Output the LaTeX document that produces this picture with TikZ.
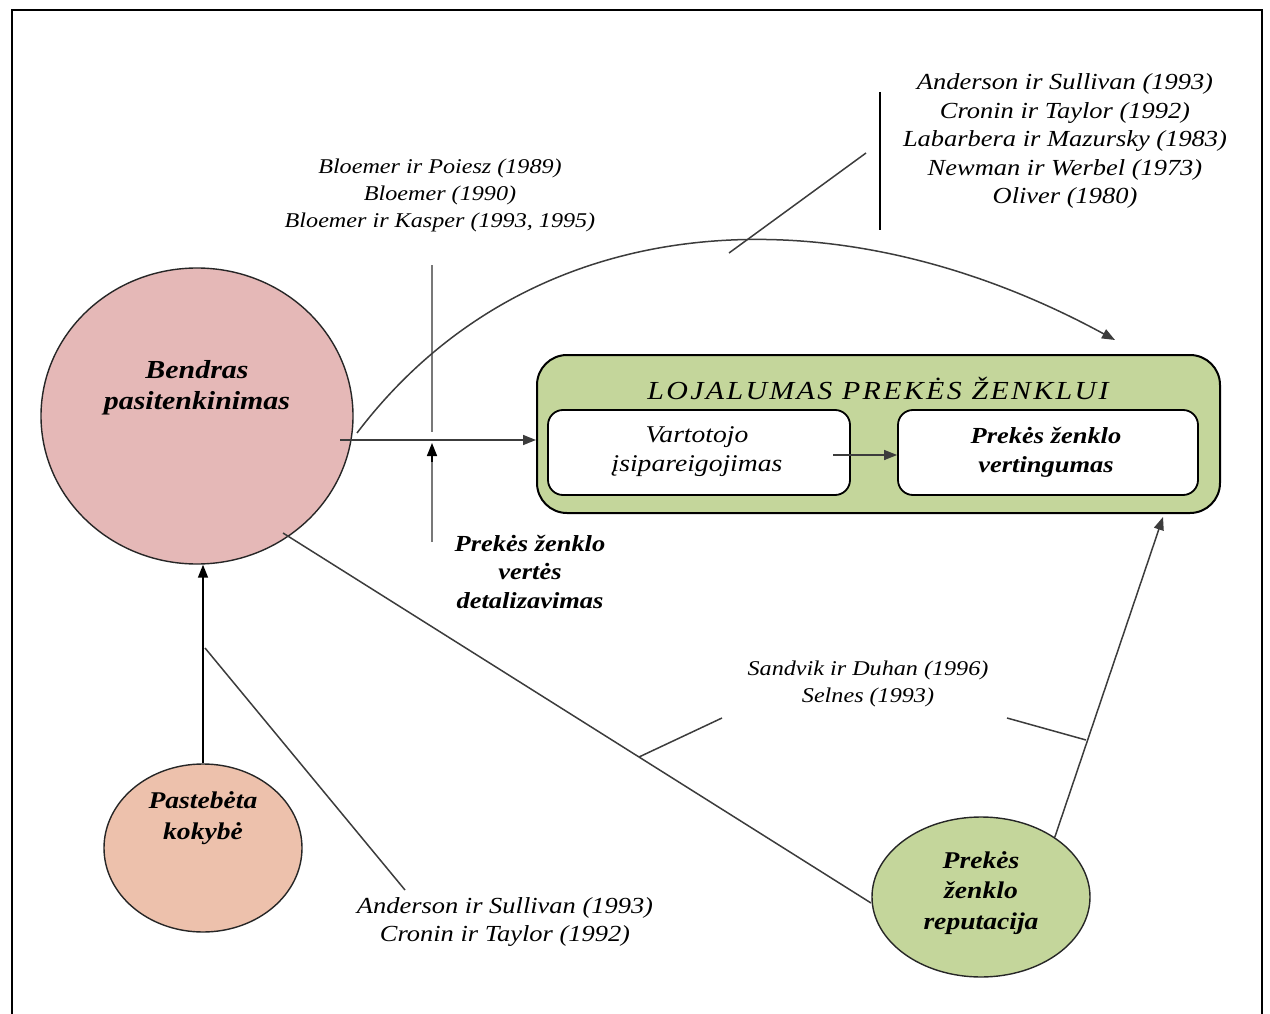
\documentclass[tikz,border=0pt]{standalone}
\usepackage{fontspec}
\setmainfont{Liberation Serif}[FakeStretch=1.15]
\usetikzlibrary{shapes.geometric,arrows.meta}

\definecolor{satpink}{RGB}{229,184,183}
\definecolor{qualsalmon}{RGB}{237,193,172}
\definecolor{loyalgreen}{RGB}{196,214,155}
\definecolor{linegray}{RGB}{60,60,60}
\definecolor{bargray}{RGB}{120,120,120}

\tikzset{
  cite/.style={font=\fontsize{23}{28.5}\selectfont\itshape, align=center, inner sep=0pt},
  smallcite/.style={cite, font=\fontsize{21}{27}\selectfont\itshape},
  lbl/.style={font=\fontsize{24}{30.5}\selectfont\bfseries\itshape, align=center, inner sep=0pt},
  blob/.style={ellipse, draw=black!85, line width=1.4pt, inner sep=0pt},
  panel/.style={draw=black, line width=1.8pt, rounded corners=15pt, fill=white, minimum height=85pt, inner sep=0pt},
  conn/.style={draw=linegray, line width=1.5pt},
  tipped/.style={-{Triangle[length=13pt,width=10pt]}},
  bar/.style={draw=bargray, line width=2.6pt},
}

\begin{document}
\begin{tikzpicture}[x=1pt,y=-1pt]
\useasboundingbox (0,0) rectangle (1270,1014);

% outer frame
\draw[line width=2pt] (12,1016) -- (12,10) -- (1262,10) -- (1262,1016);

% main constructs
\node[blob, fill=satpink, minimum width=312pt, minimum height=296pt] (bp) at (197,416) {};
\node[lbl, font=\fontsize{26}{31}\selectfont\bfseries\itshape] (bptxt) at (197,388) {Bendras\\pasitenkinimas};

\node[blob, fill=qualsalmon, minimum width=198pt, minimum height=168pt] (pq) at (203,848) {};
\node[lbl] (pqtxt) at (203,818) {Pastebėta\\kokybė};

\node[blob, fill=loyalgreen, minimum width=218pt, minimum height=160pt] (rep) at (981,897) {};
\node[lbl] (reptxt) at (981,893) {Prekės\\ženklo\\reputacija};

% brand loyalty block
\node[draw=black, line width=2pt, rounded corners=30pt, fill=loyalgreen,
      minimum width=683pt, minimum height=158pt, inner sep=0pt] (loyal) at (878.5,434) {};
\node[font=\fontsize{26}{30}\selectfont\itshape\addfontfeatures{LetterSpace=9}, inner sep=0pt]
      (loyaltitle) at (878,388) {LOJALUMAS PREKĖS ŽENKLUI};
\node[panel, minimum width=302pt] (commit) at (699,452.5) {};
\node[font=\fontsize{24}{29}\selectfont\itshape, align=center, inner sep=0pt] (committxt) at (697,452) {Vartotojo\\įsipareigojimas};
\node[panel, minimum width=300pt] (equity) at (1048,452.5) {};
\node[lbl, font=\fontsize{23}{29}\selectfont\bfseries\itshape] (equitytxt) at (1046,452) {Prekės ženklo\\vertingumas};
\coordinate (ceq) at (833,455);
\draw[conn, tipped] (ceq) -- (ceq -| equity.west);

% satisfaction -> loyalty, with the moderating bar
\coordinate (hstart) at (340,440);
\draw[conn, tipped] (hstart) -- (hstart -| loyal.west);
\coordinate (modtop) at (432,265);
\coordinate (modbot) at (432,432);
\draw[bar] (modtop) -- (modbot);
\coordinate (valbot) at (432,542);
\coordinate (valtip) at (432,443);
\draw[bar] (valbot) -- (432,458);
\draw[conn, draw=black, tipped] (432,462) -- (valtip);
\node[cite, font=\fontsize{23}{28.5}\selectfont\bfseries\itshape] (valtxt) at (530,572) {Prekės ženklo\\vertės\\detalizavimas};

% direct curved path
\coordinate (cstart) at (357,433);
\coordinate (cend) at (1115,340);
\draw[conn, tipped] (cstart) .. controls (530,205) and (834,187) .. (cend);
\coordinate (t1a) at (729,253);
\coordinate (t1b) at (866,153);
\draw[conn] (t1a) -- (t1b);
\coordinate (s1top) at (880,92);
\coordinate (s1bot) at (880,230);
\draw[line width=2pt] (s1top) -- (s1bot);

% quality -> satisfaction
\draw[conn, draw=black, tipped] (pq.north) -- (pq.north |- bp.south);
\coordinate (t2a) at (205,648);
\coordinate (t2b) at (405,890);
\draw[conn] (t2a) -- (t2b);

% satisfaction -- reputation, reputation -> loyalty
\coordinate (d1a) at (283,533);
\coordinate (d1b) at (871,903);
\draw[conn] (d1a) -- (d1b);
\coordinate (rtip) at (1163,517);
\draw[conn, tipped] (rep.39.6) -- (rtip);
\coordinate (t3a) at (639,757);
\coordinate (t3b) at (722,718);
\draw[conn] (t3a) -- (t3b);
\coordinate (t4a) at (1007,718);
\coordinate (t4b) at (1086,740);
\draw[conn] (t4a) -- (t4b);

% references
\node[smallcite] (ref1) at (440,195) {Bloemer ir Poiesz (1989)\\Bloemer (1990)\\Bloemer ir Kasper (1993, 1995)};
\node[cite] (ref2) at (1065,141) {Anderson ir Sullivan (1993)\\Cronin ir Taylor (1992)\\Labarbera ir Mazursky (1983)\\Newman ir Werbel (1973)\\Oliver (1980)};
\node[smallcite] (ref3) at (868,684) {Sandvik ir Duhan (1996)\\Selnes (1993)};
\node[cite] (ref4) at (505,922) {Anderson ir Sullivan (1993)\\Cronin ir Taylor (1992)};
\end{tikzpicture}
\end{document}
